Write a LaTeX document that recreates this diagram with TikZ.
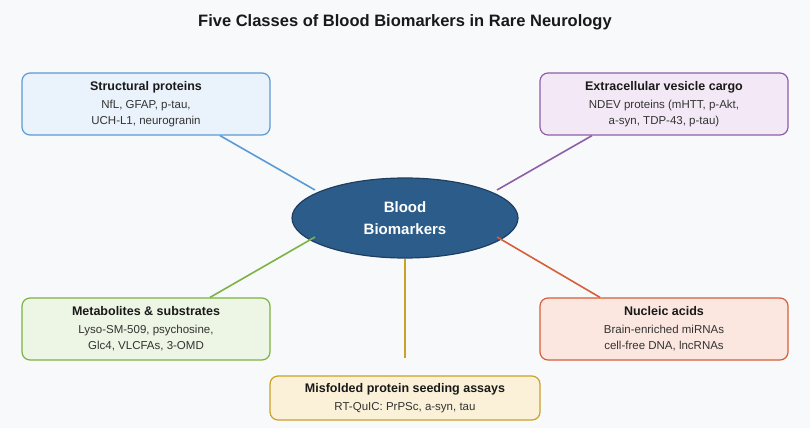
\documentclass[tikz,border=0pt]{standalone}
\usepackage{fontspec}
\setmainfont{Liberation Sans}
\usetikzlibrary{shapes.geometric,positioning}
\definecolor{bg}{HTML}{F8F9FB}
\definecolor{bluedge}{HTML}{5B9BD5}\definecolor{bluefill}{HTML}{EAF2FB}
\definecolor{purpedge}{HTML}{8E5EA8}\definecolor{purpfill}{HTML}{F3E9F6}
\definecolor{greenedge}{HTML}{7CB342}\definecolor{greenfill}{HTML}{EDF5E4}
\definecolor{rededge}{HTML}{D65F3A}\definecolor{redfill}{HTML}{FBE7E0}
\definecolor{goldedge}{HTML}{C9A227}\definecolor{goldfill}{HTML}{FBF1D8}
\definecolor{hubfill}{HTML}{2C5D8A}\definecolor{hubedge}{HTML}{1E3F60}
\tikzset{
  box/.style={draw, line width=1.2pt, rounded corners=8pt, minimum width=248pt,
    minimum height=62pt, align=center, text=black!80, font=\fontsize{11.5}{16}\selectfont},
  link/.style={line width=1.6pt},
}
\newcommand{\hd}[1]{{\fontsize{12.5}{17}\selectfont\bfseries\color{black!90} #1}\\[2pt]}
\begin{document}
\begin{tikzpicture}[x=1pt,y=-1pt]
	\fill[bg] (0,0) rectangle (810,428);
	\useasboundingbox (0,0) rectangle (810,428);
	% title
	\node[font=\fontsize{16.5}{20}\selectfont\bfseries, text=black!90] (title) at (405,22) {Five Classes of Blood Biomarkers in Rare Neurology};
	% hub
	\node[ellipse, draw=hubedge, fill=hubfill, line width=1.2pt, minimum width=226pt, minimum height=80pt,
	  text=white, align=center, font=\fontsize{15}{22}\selectfont\bfseries] (hub) at (405,218) {Blood\\Biomarkers};
	% classes
	\node[box, draw=bluedge, fill=bluefill] (struct) at (146,104) {\hd{Structural proteins}NfL, GFAP, p-tau,\\UCH-L1, neurogranin};
	\node[box, draw=purpedge, fill=purpfill] (vesicle) at (664,104) {\hd{Extracellular vesicle cargo}NDEV proteins (mHTT, p-Akt,\\a-syn, TDP-43, p-tau)};
	\node[box, draw=greenedge, fill=greenfill] (metab) at (146,329) {\hd{Metabolites \& substrates}Lyso-SM-509, psychosine,\\Glc4, VLCFAs, 3-OMD};
	\node[box, draw=rededge, fill=redfill] (nucleic) at (664,329) {\hd{Nucleic acids}Brain-enriched miRNAs\\cell-free DNA, lncRNAs};
	\node[box, draw=goldedge, fill=goldfill, minimum width=270pt, minimum height=44pt] (seed) at (405,398) {\hd{Misfolded protein seeding assays}RT-QuIC: PrPSc, a-syn, tau};
	\coordinate (seedtop) at (405,358);
	% links
	\draw[link, bluedge] ([xshift=74pt]struct.south) -- ([xshift=-90pt,yshift=28pt]hub.center);
	\draw[link, purpedge] ([xshift=-72pt]vesicle.south) -- ([xshift=92pt,yshift=28pt]hub.center);
	\draw[link, greenedge] ([xshift=64pt]metab.north) -- ([xshift=-90pt,yshift=-19pt]hub.center);
	\draw[link, rededge] ([xshift=-64pt]nucleic.north) -- ([xshift=92pt,yshift=-19pt]hub.center);
	\draw[link, goldedge] (hub.south) -- (seedtop);
\end{tikzpicture}
\end{document}
